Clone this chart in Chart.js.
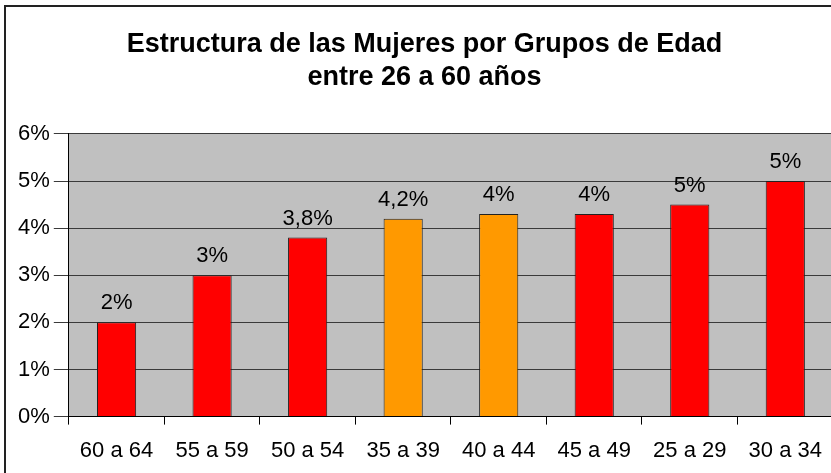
<!DOCTYPE html>
<html lang="es">
<head>
    <meta charset="UTF-8">
    <title>Estructura de las Mujeres por Grupos de Edad</title>
    <script src="https://cdn.jsdelivr.net/npm/chart.js"></script>
    <style>
        html, body { margin: 0; background: #fff; overflow: hidden; }
        #wrap { width: 835px; height: 473px; }
    </style>
</head>
<body>
    <div id="wrap"><canvas id="grafico"></canvas></div>

    <script>
        const grupos = ["60 a 64", "55 a 59", "50 a 54", "35 a 39", "40 a 44", "45 a 49", "25 a 29", "30 a 34"];
        const porcentajes = [2, 3, 3.8, 4.2, 4.3, 4.3, 4.5, 5];
        const etiquetas = ["2%", "3%", "3,8%", "4,2%", "4%", "4%", "5%", "5%"];
        const colores = ["#ff0000", "#ff0000", "#ff0000", "#ff9900", "#ff9900", "#ff0000", "#ff0000", "#ff0000"];

        // fondo gris del area de trazado + marco (solo arriba e izquierda se ven)
        const fondo = {
            id: "fondo",
            beforeDraw(chart) {
                const { ctx, chartArea: a, width, height } = chart;
                ctx.save();
                ctx.fillStyle = "#c0c0c0";
                ctx.fillRect(a.left, a.top, a.right - a.left, a.bottom - a.top);
                ctx.strokeStyle = "#222";
                ctx.lineWidth = 2;
                ctx.beginPath();
                ctx.moveTo(5, height);
                ctx.lineTo(5, 6);
                ctx.lineTo(width, 6);
                ctx.stroke();
                ctx.restore();
            }
        };

        const rotulos = {
            id: "rotulos",
            afterDatasetsDraw(chart) {
                const ctx = chart.ctx;
                ctx.save();
                ctx.font = "22px Arial";
                ctx.fillStyle = "#000";
                ctx.textAlign = "center";
                ctx.textBaseline = "alphabetic";
                chart.getDatasetMeta(0).data.forEach((bar, i) => {
                    ctx.fillText(etiquetas[i], bar.x, bar.y - 13);
                });
                ctx.restore();
            }
        };

        new Chart(document.getElementById("grafico"), {
            type: "bar",
            data: {
                labels: grupos,
                datasets: [{
                    data: porcentajes,
                    backgroundColor: colores,
                    borderColor: "#222",
                    borderWidth: 1,
                    categoryPercentage: 1,
                    barPercentage: 0.41
                }]
            },
            options: {
                responsive: true,
                maintainAspectRatio: false,
                animation: false,
                layout: { padding: { left: 14, right: 0, top: 0, bottom: -4 } },
                plugins: {
                    legend: { display: false },
                    tooltip: { enabled: false },
                    title: {
                        display: true,
                        text: ["Estructura de las Mujeres por Grupos de Edad", "entre 26 a 60 años"],
                        color: "#000",
                        font: { family: "Arial", size: 27, weight: "bold", lineHeight: 1.22 },
                        padding: { top: 28, bottom: 40 }
                    }
                },
                scales: {
                    x: {
                        grid: { display: true, drawOnChartArea: false, offset: true, color: "#000", tickLength: 8 },
                        border: { color: "#000" },
                        ticks: { color: "#000", font: { family: "Arial", size: 22 }, padding: 13, maxRotation: 0 }
                    },
                    y: {
                        min: 0,
                        max: 6,
                        grid: { color: "#3a3a3a", tickLength: 15 },
                        border: { color: "#000" },
                        ticks: {
                            stepSize: 1,
                            color: "#000",
                            font: { family: "Arial", size: 22 },
                            padding: 4,
                            callback: v => v + "%"
                        }
                    }
                }
            },
            plugins: [fondo, rotulos]
        });
    </script>
</body>
</html>
